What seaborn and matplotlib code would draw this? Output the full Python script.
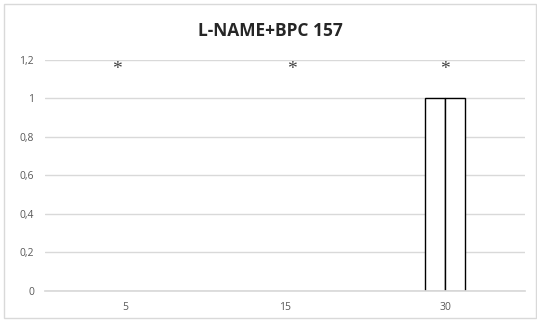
import seaborn as sns
import matplotlib.pyplot as plt
import pandas as pd
from matplotlib.ticker import FuncFormatter
from matplotlib.patches import Rectangle

categorias = ['5', '15', '30']
serie_a = [0, 0, 1]
serie_b = [0, 0, 1]
marcas = ['*', '*', '*']
yticks = [0, 0.2, 0.4, 0.6, 0.8, 1, 1.2]

df = pd.DataFrame({
    'tempo': categorias * 2,
    'valor': serie_a + serie_b,
    'serie': ['A'] * 3 + ['B'] * 3,
})

sns.set_theme(style='white')
plt.rcParams['font.family'] = ['Open Sans', 'DejaVu Sans']

fig = plt.figure(figsize=(5.37, 3.22), dpi=100)
ax = fig.add_axes([0.0838, 0.0963, 0.894, 0.7174])

sns.barplot(data=df, x='tempo', y='valor', hue='serie', order=categorias,
            palette=['white', 'white'], edgecolor='black', linewidth=1,
            width=0.25, legend=False, ax=ax)

# barras com valor zero nao aparecem
for p in ax.patches:
    if p.get_height() == 0:
        p.set_linewidth(0)

ax.set_ylim(0, 1.2)
ax.set_xlim(-0.5, 2.5)
ax.set_yticks(yticks)
ax.yaxis.set_major_formatter(FuncFormatter(lambda v, p: f'{v:g}'.replace('.', ',')))
ax.grid(axis='y', color='#d9d9d9', lw=1)
ax.set_axisbelow(True)
for s in ['top', 'right', 'left']:
    ax.spines[s].set_visible(False)
ax.spines['bottom'].set_color('#d9d9d9')
ax.tick_params(axis='both', length=0, labelsize=7.5, colors='#595959', pad=8)
ax.set_xlabel('')
ax.set_ylabel('')

# asteriscos
desloc = [-0.05, 0.04, 0.0]
for i, m in enumerate(marcas):
    ax.text(i + desloc[i], 1.15, m, ha='center', va='center', fontsize=14,
            family='Liberation Serif', color='#404040')

fig.text(0.503, 0.905, 'L-NAME+BPC 157', ha='center', va='center',
         fontsize=12.5, fontweight='bold', color='#262626')

fig.patches.append(Rectangle((0.008, 0.012), 0.99, 0.975, transform=fig.transFigure,
                             fill=False, edgecolor='#d9d9d9', lw=1))

fig.savefig('out.png', dpi=100)
